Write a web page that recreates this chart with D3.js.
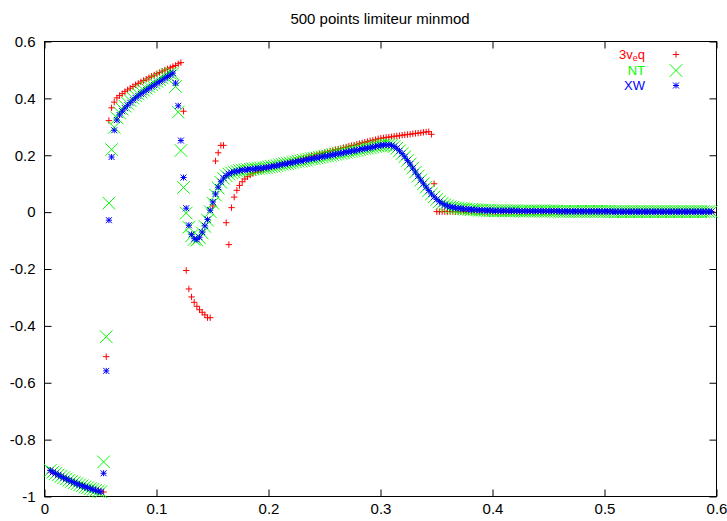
<!DOCTYPE html>
<html>
<head>
<meta charset="utf-8">
<script src="https://cdn.jsdelivr.net/npm/d3@7"></script>
<style>
  body { margin: 0; background: #fff; }
  svg { display: block; }
  text { font-family: "Liberation Sans", Arial, Helvetica, sans-serif; font-size: 15px; fill: #000; }
</style>
</head>
<body>
<svg id="chart" width="727" height="521"></svg>
<script>
// Axis ticks
const xTicks = [0, 0.1, 0.2, 0.3, 0.4, 0.5, 0.6];
const xTickLabels = ["0", "0.1", "0.2", "0.3", "0.4", "0.5", "0.6"];
const yTicks = [-1, -0.8, -0.6, -0.4, -0.2, 0, 0.2, 0.4, 0.6];
const yTickLabels = ["-1", "-0.8", "-0.6", "-0.4", "-0.2", "0", "0.2", "0.4", "0.6"];

// Cell-centre grid of the 500-point mesh (only the part inside [0, 0.6] is listed)
const gridStart = 0.0056;
const gridStep = 0.00238;

// Solution values per cell, scheme "3v_eq"
const eq3 = [
  -0.910,-0.916,-0.921,-0.926,-0.931,-0.936,-0.940,-0.945,-0.949,-0.953,
  -0.957,-0.961,-0.964,-0.968,-0.971,-0.974,-0.977,-0.980,-0.983,-0.985,
  -0.986,-0.510,0.320,0.365,0.385,0.400,0.408,0.415,0.422,0.428,
  0.434,0.440,0.446,0.451,0.456,0.461,0.466,0.471,0.476,0.480,
  0.485,0.489,0.494,0.498,0.502,0.506,0.510,0.514,0.520,0.524,
  0.353,-0.207,-0.272,-0.300,-0.319,-0.333,-0.345,-0.354,-0.363,-0.373,
  -0.373,0.020,0.178,0.207,0.233,0.233,-0.039,-0.116,0.014,0.051,
  0.075,0.092,0.105,0.115,0.123,0.129,0.134,0.138,0.142,0.145,
  0.148,0.151,0.154,0.157,0.160,0.162,0.165,0.167,0.170,0.172,
  0.175,0.178,0.180,0.183,0.185,0.188,0.190,0.193,0.195,0.198,
  0.200,0.203,0.205,0.208,0.210,0.213,0.215,0.218,0.220,0.222,
  0.225,0.227,0.230,0.232,0.234,0.237,0.239,0.242,0.244,0.246,
  0.249,0.251,0.253,0.256,0.258,0.259,0.261,0.262,0.263,0.265,
  0.266,0.267,0.269,0.270,0.271,0.272,0.274,0.275,0.276,0.277,
  0.279,0.280,0.281,0.272,0.098,0,0,0,0,0,
  0,0,0,0,0,0,0,0,0,0,
  0,0,0,0,0,0,0,0,0,0,
  0,0,0,0,0,0,0,0,0,0,
  0,0,0,0,0,0,0,0,0,0,
  0,0,0,0,0,0,0,0,0,0,
  0,0,0,0,0,0,0,0,0,0,
  0,0,0,0,0,0,0,0,0,0,
  0,0,0,0,0,0,0,0,0,0,
  0,0,0,0,0,0,0,0,0,0,
  0,0,0,0,0,0,0,0,0
];

// Scheme "NT"
const nt = [
  -0.910,-0.916,-0.921,-0.926,-0.931,-0.936,-0.940,-0.945,-0.949,-0.953,
  -0.957,-0.961,-0.964,-0.968,-0.971,-0.974,-0.977,-0.980,-0.983,-0.985,
  -0.880,-0.440,0.030,0.218,0.296,0.330,0.347,0.360,0.371,0.381,
  0.390,0.399,0.407,0.414,0.421,0.427,0.434,0.440,0.446,0.452,
  0.458,0.464,0.470,0.476,0.481,0.486,0.485,0.440,0.350,0.215,
  0.085,-0.005,-0.055,-0.085,-0.098,-0.100,-0.092,-0.075,-0.052,-0.030,
  0.000,0.030,0.058,0.083,0.103,0.117,0.126,0.132,0.136,0.139,
  0.142,0.144,0.146,0.147,0.148,0.149,0.150,0.151,0.152,0.153,
  0.154,0.155,0.157,0.159,0.160,0.162,0.164,0.166,0.168,0.169,
  0.171,0.173,0.175,0.177,0.178,0.180,0.182,0.184,0.186,0.187,
  0.189,0.191,0.193,0.195,0.196,0.198,0.200,0.202,0.204,0.205,
  0.207,0.209,0.211,0.213,0.214,0.216,0.218,0.220,0.222,0.223,
  0.225,0.227,0.229,0.231,0.233,0.234,0.235,0.235,0.233,0.229,
  0.223,0.214,0.204,0.193,0.180,0.167,0.153,0.139,0.125,0.111,
  0.098,0.086,0.074,0.062,0.052,0.043,0.035,0.029,0.024,0.020,
  0.017,0.015,0.013,0.012,0.011,0.010,0.009,0.008,0.007,0.007,
  0.006,0.005,0.005,0.004,0.004,0.004,0.003,0.003,0.003,0.003,
  0.003,0.003,0.003,0.003,0.003,0.003,0.002,0.002,0.002,0.002,
  0.002,0.002,0.002,0.002,0.002,0.002,0.002,0.002,0.002,0.002,
  0.002,0.001,0.001,0.001,0.001,0.001,0.001,0.001,0.001,0.001,
  0.001,0.001,0.001,0.001,0.001,0.001,0.001,0.001,0.001,0.001,
  0.001,0,0,0,0,0,0,0,0,0,
  0,0,0,0,0,0,0,0,0,0,
  0,0,0,0,0,0,0,0,0,0,
  0,0,0,0,0,0,0,0,0
];

// Scheme "XW"
const xw = [
  -0.910,-0.916,-0.921,-0.926,-0.931,-0.936,-0.940,-0.945,-0.949,-0.953,
  -0.957,-0.961,-0.964,-0.968,-0.971,-0.974,-0.977,-0.980,-0.983,-0.985,
  -0.920,-0.560,-0.030,0.192,0.286,0.322,0.340,0.353,0.364,0.374,
  0.383,0.392,0.400,0.407,0.414,0.420,0.427,0.433,0.439,0.445,
  0.451,0.457,0.463,0.469,0.475,0.481,0.487,0.452,0.372,0.250,
  0.120,0.012,-0.048,-0.080,-0.095,-0.098,-0.090,-0.072,-0.050,-0.028,
  0.005,0.034,0.062,0.086,0.105,0.118,0.127,0.133,0.137,0.140,
  0.142,0.144,0.146,0.147,0.148,0.149,0.150,0.151,0.152,0.153,
  0.154,0.155,0.157,0.159,0.160,0.162,0.164,0.166,0.168,0.169,
  0.171,0.173,0.175,0.177,0.178,0.180,0.182,0.184,0.186,0.187,
  0.189,0.191,0.193,0.195,0.196,0.198,0.200,0.202,0.204,0.205,
  0.207,0.209,0.211,0.213,0.214,0.216,0.218,0.220,0.222,0.223,
  0.225,0.227,0.229,0.231,0.233,0.234,0.235,0.235,0.233,0.229,
  0.223,0.214,0.204,0.193,0.180,0.167,0.153,0.139,0.125,0.111,
  0.098,0.086,0.074,0.062,0.052,0.043,0.035,0.029,0.024,0.020,
  0.017,0.015,0.013,0.012,0.011,0.010,0.009,0.008,0.007,0.007,
  0.006,0.005,0.005,0.004,0.004,0.004,0.003,0.003,0.003,0.003,
  0.003,0.003,0.003,0.003,0.003,0.003,0.002,0.002,0.002,0.002,
  0.002,0.002,0.002,0.002,0.002,0.002,0.002,0.002,0.002,0.002,
  0.002,0.001,0.001,0.001,0.001,0.001,0.001,0.001,0.001,0.001,
  0.001,0.001,0.001,0.001,0.001,0.001,0.001,0.001,0.001,0.001,
  0.001,0,0,0,0,0,0,0,0,0,
  0,0,0,0,0,0,0,0,0,0,
  0,0,0,0,0,0,0,0,0,0,
  0,0,0,0,0,0,0,0,0
];

// Layout
const plot = { left: 44, right: 716, top: 41, bottom: 496 };

const svg = d3.select("#chart");
const x = d3.scaleLinear().domain([0, 0.6]).range([plot.left, plot.right]);
const y = d3.scaleLinear().domain([-1, 0.6]).range([plot.bottom, plot.top]);

// Point glyphs (gnuplot-style)
const plusPath = s => `M${-s},0H${s}M0,${-s}V${s}`;
const crossPath = s => `M${-s},${-s}L${s},${s}M${-s},${s}L${s},${-s}`;
const starPath = s => plusPath(s) + crossPath(s);

const series = [
  { values: eq3, color: "#ff0000", glyph: plusPath(3.2) },
  { values: nt,  color: "#00ff00", glyph: crossPath(6.3) },
  { values: xw,  color: "#0000ff", glyph: starPath(3) }
];

// Frame
svg.append("rect")
  .attr("x", plot.left + 0.5).attr("y", plot.top + 0.5)
  .attr("width", plot.right - plot.left).attr("height", plot.bottom - plot.top)
  .attr("fill", "none").attr("stroke", "#000").attr("stroke-width", 1);

// Axes with inward, mirrored ticks
function styleAxis(g) {
  g.select(".domain").remove();
  g.selectAll(".tick line").attr("stroke", "#000");
  g.selectAll(".tick text").attr("font-size", 15)
    .attr("font-family", '"Liberation Sans", Arial, Helvetica, sans-serif').attr("fill", "#000");
}
svg.append("g").attr("transform", `translate(0.5,${plot.bottom + 0.5})`)
  .call(d3.axisBottom(x).tickValues(xTicks).tickFormat((d, i) => xTickLabels[i]).tickSize(-7).tickPadding(7))
  .call(styleAxis);
svg.append("g").attr("transform", `translate(0.5,${plot.top + 0.5})`)
  .call(d3.axisTop(x).tickValues(xTicks).tickFormat("").tickSize(-7))
  .call(styleAxis);
svg.append("g").attr("transform", `translate(${plot.left + 0.5},0.5)`)
  .call(d3.axisLeft(y).tickValues(yTicks).tickFormat((d, i) => yTickLabels[i]).tickSize(-7).tickPadding(9))
  .call(styleAxis);
svg.append("g").attr("transform", `translate(${plot.right + 0.5},0.5)`)
  .call(d3.axisRight(y).tickValues(yTicks).tickFormat("").tickSize(-7))
  .call(styleAxis);

// Data points, drawn in plotting order; only cells inside the x range
series.forEach(s => {
  const pts = s.values
    .map((v, i) => ({ xv: gridStart + gridStep * i, yv: v }))
    .filter(p => p.xv <= 0.6);
  svg.append("g")
    .attr("fill", "none").attr("stroke", s.color).attr("stroke-width", 1)
    .selectAll("path")
    .data(pts)
    .join("path")
    .attr("transform", p => `translate(${x(p.xv)},${y(p.yv)})`)
    .attr("d", s.glyph);
});

// Title
svg.append("text")
  .attr("x", 380).attr("y", 24)
  .attr("text-anchor", "middle")
  .text("500 points limiteur minmod");

// Legend
const legend = svg.append("g");
const legendRows = [
  { y: 59, color: "#ff0000", glyph: plusPath(3.2) },
  { y: 75, color: "#00ff00", glyph: crossPath(6.3) },
  { y: 90, color: "#0000ff", glyph: starPath(3) }
];
const l0 = legend.append("text").attr("x", 645).attr("y", legendRows[0].y)
  .attr("text-anchor", "end").style("fill", legendRows[0].color).style("font-size", "13px");
l0.append("tspan").text("3v");
l0.append("tspan").attr("dy", 2).style("font-size", "9px").text("e");
l0.append("tspan").attr("dy", -2).text("q");
legend.append("text").attr("x", 645).attr("y", legendRows[1].y)
  .attr("text-anchor", "end").style("fill", legendRows[1].color).style("font-size", "13px").text("NT");
legend.append("text").attr("x", 645).attr("y", legendRows[2].y)
  .attr("text-anchor", "end").style("fill", legendRows[2].color).style("font-size", "13px").text("XW");
legendRows.forEach(r => {
  legend.append("path")
    .attr("transform", `translate(676,${r.y - 4.5})`)
    .attr("d", r.glyph)
    .attr("fill", "none").attr("stroke", r.color).attr("stroke-width", 1);
});
</script>
</body>
</html>
